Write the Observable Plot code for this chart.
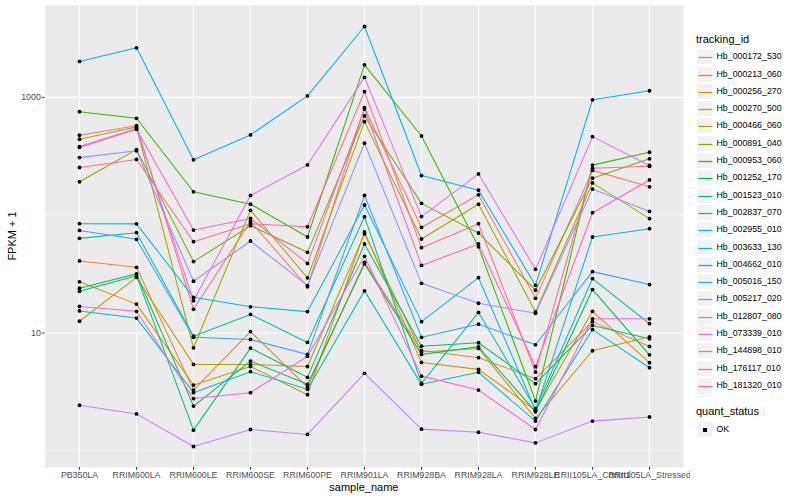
<!DOCTYPE html>
<html>
<head>
<meta charset="utf-8">
<script src="https://cdn.jsdelivr.net/npm/d3@7"></script>
<script src="https://cdn.jsdelivr.net/npm/@observablehq/plot@0.6"></script>
<style>
  html, body { margin: 0; padding: 0; background: white; }
  #wrap { position: relative; width: 800px; height: 500px; font-family: "Liberation Sans", Arial, Helvetica, sans-serif; }
  #chart { position: absolute; left: 0; top: 0; }
  .t { position: absolute; white-space: nowrap; color: black; }
  .key { position: absolute; width: 17px; height: 17px; background: #F2F2F2; box-sizing: border-box; border: 0.5px solid white; }
  .key svg { position: absolute; left: 0; top: 0; }
  .key .pt { position: absolute; left: 6px; top: 6px; width: 4px; height: 4px; background: black; }
</style>
</head>
<body>
<div id="wrap">
  <div id="chart"></div>
</div>
<script>
const samples = ["PB350LA","RRIM600LA","RRIM600LE","RRIM600SE","RRIM600PE","RRIM901LA","RRIM928BA","RRIM928LA","RRIM928LE","RRII105LA_Control","RRII105LA_Stressed"];

const ids = ["Hb_000172_530","Hb_000213_060","Hb_000256_270","Hb_000270_500","Hb_000466_060","Hb_000891_040","Hb_000953_060","Hb_001252_170","Hb_001523_010","Hb_002837_070","Hb_002955_010","Hb_003633_130","Hb_004662_010","Hb_005016_150","Hb_005217_020","Hb_012807_080","Hb_073339_010","Hb_144898_010","Hb_176117_010","Hb_181320_010"];

const colors = ["#F8766D","#EA8331","#D89000","#C09B00","#A3A500","#7CAE00","#39B600","#00BB4E","#00BF7D","#00C1A3","#00BFC4","#00BAE0","#00B0F6","#35A2FF","#9590FF","#C77CFF","#E76BF3","#FA62DB","#FF62BC","#FF6C91"];

// FPKM + 1 per sample (order of `samples`)
const Hb_000172_530 = [477, 575, 15.9, 88.5, 24.7, 817, 78.7, 149, 19.7, 240, 174];
const Hb_000213_060 = [40.9, 36.1, 3.28, 10.3, 3.48, 39.8, 7.1, 6.18, 4.10, 12.5, 7.69];
const Hb_000256_270 = [27.2, 17.6, 3.62, 5.2, 3.0, 72, 5.63, 4.92, 2.21, 15.3, 5.60];
const Hb_000270_500 = [12.6, 29.7, 5.42, 5.42, 5.2, 69.6, 6.9, 7.40, 1.89, 7.08, 9.29];
const Hb_000466_060 = [441, 560, 7.5, 110, 29.4, 622, 62.8, 124, 15.1, 188, 93.5];
const Hb_000891_040 = [192, 360, 40.4, 81.4, 48.4, 695, 126, 70.6, 23.1, 206, 301];
const Hb_000953_060 = [755, 664, 158, 124, 65.3, 1888, 470, 53.9, 2.65, 266, 342];
const Hb_001252_170 = [24, 31.8, 2.40, 5.78, 3.67, 38.6, 6.59, 7.64, 2.15, 23.4, 6.53];
const Hb_001523_010 = [22.6, 30.7, 1.50, 7.45, 4.21, 57, 7.74, 8.27, 3.72, 11.6, 8.95];
const Hb_002837_070 = [63.6, 71, 9.4, 14.4, 8.32, 97, 3.74, 15.0, 2.28, 29, 12.0];
const Hb_002955_010 = [15.4, 13.4, 3.12, 4.70, 3.33, 22.8, 3.67, 4.64, 1.79, 10.7, 5.08];
const Hb_003633_130 = [84.7, 84.4, 20.1, 16.7, 15.2, 122, 12.5, 29.5, 2.2, 65.3, 76.8];
const Hb_004662_010 = [2018, 2630, 295, 480, 1029, 3990, 217, 163, 25.4, 953, 1137];
const Hb_005016_150 = [74.3, 62.4, 9.2, 8.83, 6.59, 147, 9.2, 11.9, 7.95, 33.2, 25.8];
const Hb_005217_020 = [308, 352, 27.5, 60.4, 25.3, 408, 26.4, 17.9, 14.7, 166.6, 107.7];
const Hb_012807_080 = [2.44, 2.06, 1.09, 1.52, 1.38, 4.55, 1.53, 1.44, 1.17, 1.79, 1.94];
const Hb_073339_010 = [382, 545, 18.8, 147, 267, 1476, 97.3, 224, 34.7, 464, 264];
const Hb_144898_010 = [16.8, 15.3, 2.78, 3.12, 6.35, 44.8, 4.31, 3.28, 1.52, 13.2, 13.2];
const Hb_176117_010 = [376, 536, 74.8, 93.8, 39.0, 796, 37.5, 57, 5.18, 105, 199];
const Hb_181320_010 = [254, 297, 59.6, 84.6, 79.8, 1116, 53, 84.7, 4.66, 250, 260];

const seriesValues = [Hb_000172_530, Hb_000213_060, Hb_000256_270, Hb_000270_500, Hb_000466_060, Hb_000891_040, Hb_000953_060, Hb_001252_170, Hb_001523_010, Hb_002837_070, Hb_002955_010, Hb_003633_130, Hb_004662_010, Hb_005016_150, Hb_005217_020, Hb_012807_080, Hb_073339_010, Hb_144898_010, Hb_176117_010, Hb_181320_010];

const yMajor = [10, 1000];
const yMinor = [1, 100];
const statusLevels = ["OK"];

const rows = ids.flatMap((id, i) => seriesValues[i].map((v, j) => ({id, sample: samples[j], value: v, status: "OK"})));

const allVals = rows.map(d => Math.log10(d.value));
const lo = d3.min(allVals), hi = d3.max(allVals), pad = (hi - lo) * 0.05;

const chart = Plot.plot({
  width: 690,
  height: 500,
  marginLeft: 44.5,
  marginRight: 6.8,
  marginTop: 5,
  marginBottom: 33,
  style: {fontFamily: "'Liberation Sans', Arial, Helvetica, sans-serif", fontSize: "8.8px", background: "white", color: "#4D4D4D"},
  x: {type: "point", domain: samples, padding: 0.6, label: null},
  y: {type: "log", domain: [Math.pow(10, lo - pad), Math.pow(10, hi + pad)], label: null},
  color: {domain: ids, range: colors},
  marks: [
    Plot.frame({fill: "#EBEBEB", stroke: "none"}),
    Plot.gridY(yMinor, {stroke: "white", strokeOpacity: 1, strokeWidth: 0.55}),
    Plot.gridY(yMajor, {stroke: "white", strokeOpacity: 1, strokeWidth: 1.1}),
    Plot.gridX(samples, {stroke: "white", strokeOpacity: 1, strokeWidth: 1.1}),
    Plot.line(rows, {x: "sample", y: "value", z: "id", stroke: "id", strokeWidth: 1.05}),
    Plot.dot(rows, {x: "sample", y: "value", r: 1.9, fill: "black", stroke: "none"}),
    Plot.axisX(samples, {tickSize: 2.7, tickPadding: 1.5, stroke: "#333333", fill: "#4D4D4D", label: null}),
    Plot.axisY(yMajor, {tickSize: 2.7, tickPadding: 1.5, stroke: "#333333", fill: "#4D4D4D", tickFormat: d => String(d), label: null})
  ]
});
document.getElementById("chart").appendChild(chart);

// Titles and legend (HTML)
const wrap = document.getElementById("wrap");
function addText(txt, left, top, size, extra) {
  const el = document.createElement("div");
  el.className = "t";
  el.textContent = txt;
  el.style.left = left + "px";
  el.style.top = top + "px";
  el.style.fontSize = size + "px";
  el.style.lineHeight = "1";
  if (extra) Object.assign(el.style, extra);
  wrap.appendChild(el);
  return el;
}
// x axis title
addText("sample_name", 363.9, 482, 11, {transform: "translateX(-50%)"});
// y axis title
addText("FPKM + 1", 12, 236, 11, {transform: "translate(-50%, -50%) rotate(-90deg)"});

// legend: tracking_id
addText("tracking_id", 696, 34, 11);
const rowPitch = 17.3, firstRow = 56.7;
const svgNS = "http://www.w3.org/2000/svg";
ids.forEach((id, i) => {
  const cy = firstRow + i * rowPitch;
  const top = Math.round(cy - 8.5);
  const k = document.createElement("div");
  k.className = "key";
  k.style.left = "696px";
  k.style.top = top + "px";
  const s = document.createElementNS(svgNS, "svg");
  s.setAttribute("width", "17");
  s.setAttribute("height", "17");
  const l = document.createElementNS(svgNS, "line");
  l.setAttribute("x1", "1.5"); l.setAttribute("x2", "15.5");
  l.setAttribute("y1", "8.5"); l.setAttribute("y2", "8.5");
  l.setAttribute("stroke", colors[i]);
  l.setAttribute("stroke-width", "1.3");
  s.appendChild(l);
  k.appendChild(s);
  wrap.appendChild(k);
  addText(id, 716.5, top + 4, 8.8);
});
// legend: quant_status
addText("quant_status", 696, 406, 11);
statusLevels.forEach((s, i) => {
  const cy = 429.3 + i * rowPitch;
  const top = Math.round(cy - 8.5);
  const k = document.createElement("div");
  k.className = "key";
  k.style.left = "696px";
  k.style.top = top + "px";
  const pt = document.createElement("div");
  pt.className = "pt";
  k.appendChild(pt);
  wrap.appendChild(k);
  addText(s, 716.5, top + 4, 8.8);
});
</script>
</body>
</html>
